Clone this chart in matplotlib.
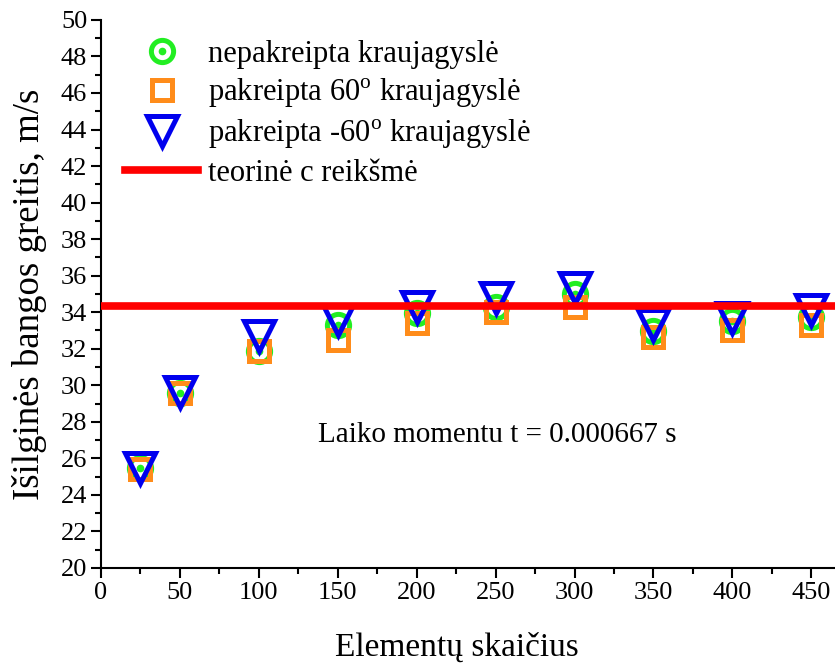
import matplotlib
matplotlib.use("Agg")
import matplotlib.pyplot as plt
from matplotlib.ticker import MultipleLocator

plt.rcParams['font.family'] = ['Liberation Serif', 'DejaVu Serif']
plt.rcParams['mathtext.fontset'] = 'custom'
plt.rcParams['mathtext.rm'] = 'Liberation Serif'

elements = [25, 50, 100, 150, 200, 250, 300, 350, 400, 450]
straight = [25.5, 29.6, 31.9, 33.3, 33.95, 34.3, 35.0, 32.95, 33.5, 33.75]
tilt_pos60 = [25.4, 29.6, 31.9, 32.5, 33.4, 34.0, 34.3, 32.65, 33.0, 33.3]
tilt_neg60 = [25.45, 29.65, 32.7, 33.6, 34.3, 34.8, 35.3, 33.3, 33.7, 34.1]
theory_c = 34.35

labels = ['nepakreipta kraujagyslė',
          'pakreipta 60$^{\\mathrm{o}}$ kraujagyslė',
          'pakreipta -60$^{\\mathrm{o}}$ kraujagyslė',
          'teorinė c reikšmė']
annot = 'Laiko momentu t = 0.000667 s'

fig = plt.figure(figsize=(8.35, 6.63), dpi=100)
ax = fig.add_axes([0.121, 0.1433, 0.879, 0.8267])

green = '#22ee22'
orange = '#ff8c1a'
blue = '#0000ee'

c1, = ax.plot(elements, straight, 'o', ms=16, mfc='none', mec=green, mew=3.6, ls='none', zorder=3)
c1d, = ax.plot(elements, straight, 'o', ms=4.5, mfc=green, mec=green, ls='none', zorder=3)
s1, = ax.plot(elements, tilt_pos60, 's', ms=15, mfc='none', mec=orange, mew=3.6, ls='none', zorder=4)
t1, = ax.plot(elements, tilt_neg60, 'v', ms=22, mfc='none', mec=blue, mew=3.6, ls='none', zorder=5)
ln = ax.axhline(theory_c, color='#ff0000', lw=5.5, zorder=6)

ax.set_xlim(0, 465)
ax.set_ylim(20, 50)
ax.xaxis.set_major_locator(MultipleLocator(50))
ax.xaxis.set_minor_locator(MultipleLocator(25))
ax.yaxis.set_major_locator(MultipleLocator(2))
ax.yaxis.set_minor_locator(MultipleLocator(1))
for s in ['top', 'right']:
    ax.spines[s].set_visible(False)
for s in ['left', 'bottom']:
    ax.spines[s].set_linewidth(1.5)
ax.tick_params(which='major', direction='out', length=7, width=1.5, labelsize=19, pad=3)
ax.tick_params(which='minor', direction='out', length=4, width=1.5)
ax.set_xlabel('Elementų skaičius', fontsize=24)
ax.set_ylabel('Išilginės bangos greitis, m/s', fontsize=26.5)
ax.xaxis.set_label_coords((457 - 101) / 734, -(647 - 568) / 548)
ax.xaxis.label.set_va('center')
ax.yaxis.set_label_coords(-(101 - 29) / 734, 0.5)
ax.yaxis.label.set_va('center')

ax.text(251, 27.3, annot, fontsize=21, ha='center', va='center')

leg = ax.legend([(c1, c1d), s1, t1, ln], labels, loc='upper left',
                bbox_to_anchor=(125 / 835, 1 - 40 / 663), bbox_transform=fig.transFigure,
                frameon=False, fontsize=22, borderpad=0, borderaxespad=0,
                labelspacing=0.25, handlelength=2.4, handletextpad=0.33)

fig.savefig('out.png', dpi=100)
